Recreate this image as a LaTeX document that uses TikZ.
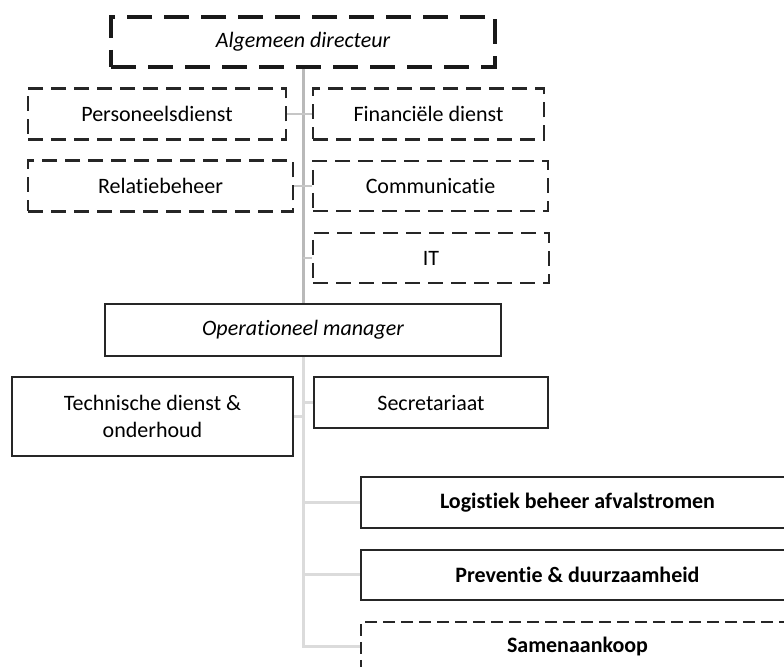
\documentclass[tikz,border=0pt]{standalone}
\usepackage{fontspec}
\setmainfont{Carlito}[Ligatures={NoCommon,NoContextual}]
\usepackage{tikz}

\begin{document}
\begin{tikzpicture}[
    x=0.5pt, y=-0.5pt,
    every node/.style={font=\fontsize{11pt}{13.4pt}\selectfont, text=black},
    headbox/.style={
      rectangle, draw=black!90, line width=2pt, dash pattern=on 12.5pt off 6pt,
      minimum width=192pt, minimum height=25pt, align=center, font=\fontsize{11pt}{13.4pt}\selectfont\itshape
    },
    staffbox/.style={
      rectangle, draw=black!85, line width=1.4pt, dash pattern=on 7.5pt off 4pt,
      minimum height=25.5pt, align=center
    },
    unitbox/.style={
      rectangle, draw=black!85, line width=1pt,
      minimum height=25.5pt, align=center
    },
    linebox/.style={
      unitbox, minimum width=216.5pt, font=\fontsize{11pt}{13.4pt}\selectfont\bfseries
    },
    trunk/.style={line width=1.5pt, gray!55},
    lowtrunk/.style={line width=1.5pt, gray!28},
    stub/.style={line width=1.2pt, gray!45}
  ]
    \useasboundingbox (0,0) rectangle (784,667);
    \clip (0,0) rectangle (784,667);

    % Top of the organisation
    \node[headbox] (ad) at (303,42) {Algemeen directeur};

    % Staff services (dashed)
    \node[staffbox, minimum width=129pt] (pd) at (157,114) {Personeelsdienst};
    \node[staffbox, minimum width=115.5pt] (fd) at (428.5,114) {Financiële dienst};
    \node[staffbox, minimum width=132.5pt] (rb) at (160.5,186) {Relatiebeheer};
    \node[staffbox, minimum width=117.5pt, minimum height=25pt] (co) at (430.5,186) {Communicatie};
    \node[staffbox, minimum width=118pt, minimum height=25pt] (it) at (431,258) {IT};

    % Operational part
    \node[unitbox, minimum width=198pt, minimum height=26pt, font=\fontsize{11pt}{13.4pt}\selectfont\itshape] (om) at (303,330) {Operationeel manager};
    \node[unitbox, minimum width=140.5pt, minimum height=39.5pt] (td) at (152.5,416.5) {Technische dienst \&\\onderhoud};
    \node[unitbox, minimum width=117pt] (se) at (431,403) {Secretariaat};

    % Core lines
    \node[linebox] (lb) at (577.5,502.5) {Logistiek beheer afvalstromen};
    \node[linebox, minimum height=25pt] (pr) at (577.5,575) {Preventie \& duurzaamheid};
    \node[staffbox, line width=1pt, dash pattern=on 6pt off 3pt, minimum width=216.5pt, minimum height=25pt,
          font=\fontsize{11pt}{13.4pt}\selectfont\bfseries] (sa) at (577.5,647) {Samenaankoop};

    % Vertical trunk
    \draw[trunk] (ad.south) -- (ad.south |- om.north);
    \draw[lowtrunk] (ad.south |- om.south) |- (sa.west);

    % Staff connectors
    \draw[stub] (pd.east) -- (fd.west);
    \draw[stub] (rb.east) -- (co.west);
    \draw[stub] (ad.south |- it.west) -- (it.west);

    % Operational connectors
    \draw[lowtrunk] (td.east) -- (ad.south |- td.east);
    \draw[lowtrunk] (ad.south |- se.west) -- (se.west);
    \draw[lowtrunk] (ad.south |- lb.west) -- (lb.west);
    \draw[lowtrunk] (ad.south |- pr.west) -- (pr.west);

  \end{tikzpicture}
\end{document}
